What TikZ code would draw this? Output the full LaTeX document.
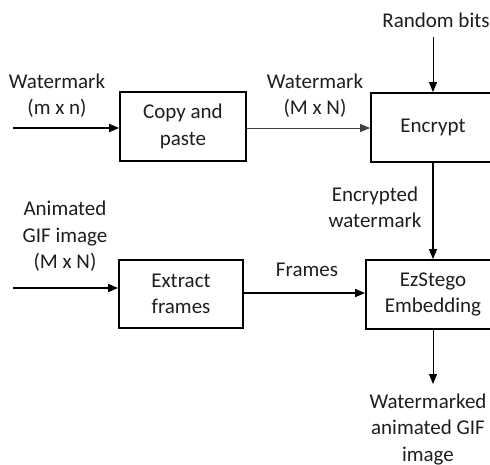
\documentclass[tikz,border=0pt]{standalone}
\usepackage{fontspec}
\setmainfont{Carlito}
\usetikzlibrary{arrows.meta}
\definecolor{ink}{HTML}{1E1E1E}
\begin{document}
\begin{tikzpicture}[x=1pt,y=-1pt,
  every node/.style={text=ink},
  txt/.style={font=\fontsize{21}{26.5}\selectfont, align=center, inner sep=0pt},
  blk/.style={txt, draw=black, line width=1.8pt},
  heavy/.style={draw=black, line width=1.8pt, -{Triangle[length=10pt,width=8pt]}},
  light/.style={draw=black, line width=1pt, -{Triangle[length=10pt,width=8pt]}}]
\useasboundingbox (0,0) rectangle (490,464);

% processing blocks
\node[blk, minimum width=126pt, minimum height=69pt] (copy) at (183,126.5) {Copy and\\paste};
\node[blk, minimum width=124pt, minimum height=68pt] (extract) at (181,294) {Extract\\frames};
\node[blk, minimum width=124pt, minimum height=69pt] (enc) at (433,127.5) {Encrypt};
\node[blk, minimum width=134pt, minimum height=69pt] (ez) at (433,294.5) {EzStego\\Embedding};

% free ends of the input and output arrows
\coordinate (wmin) at (13,128);
\coordinate (gifin) at (13,288);
\coordinate (rbtail) at (433,37);
\coordinate (outtip) at (433,384);

% labels
\node[txt] (rb) at (436,20) {Random bits};
\node[txt] (lwm) at (57,95.5) {Watermark\\(m x n)};
\node[txt] (lwmb) at (315,95.5) {Watermark\\(M x N)};
\node[txt] (lenc) at (375,207.5) {Encrypted\\watermark};
\node[txt] (lgif) at (65,236.5) {Animated\\GIF image\\(M x N)};
\node[txt] (lfr) at (307,270) {Frames};
\node[txt] (lout) at (428,429.5) {Watermarked\\animated GIF\\image};

% connectors
\draw[heavy] (wmin) -- (wmin -| copy.west);
\draw[light, draw=black!75] (copy.east |- wmin) -- (wmin -| enc.west);
\draw[light] (rbtail) -- (enc.north);
\draw[light, line width=1.2pt] (enc.south) -- (ez.north);
\draw[heavy] (gifin) -- (gifin -| extract.west);
\draw[heavy] (extract.east |- 293,293) -- (ez.west |- 293,293);
\draw[light] (ez.south) -- (outtip);
\end{tikzpicture}
\end{document}
